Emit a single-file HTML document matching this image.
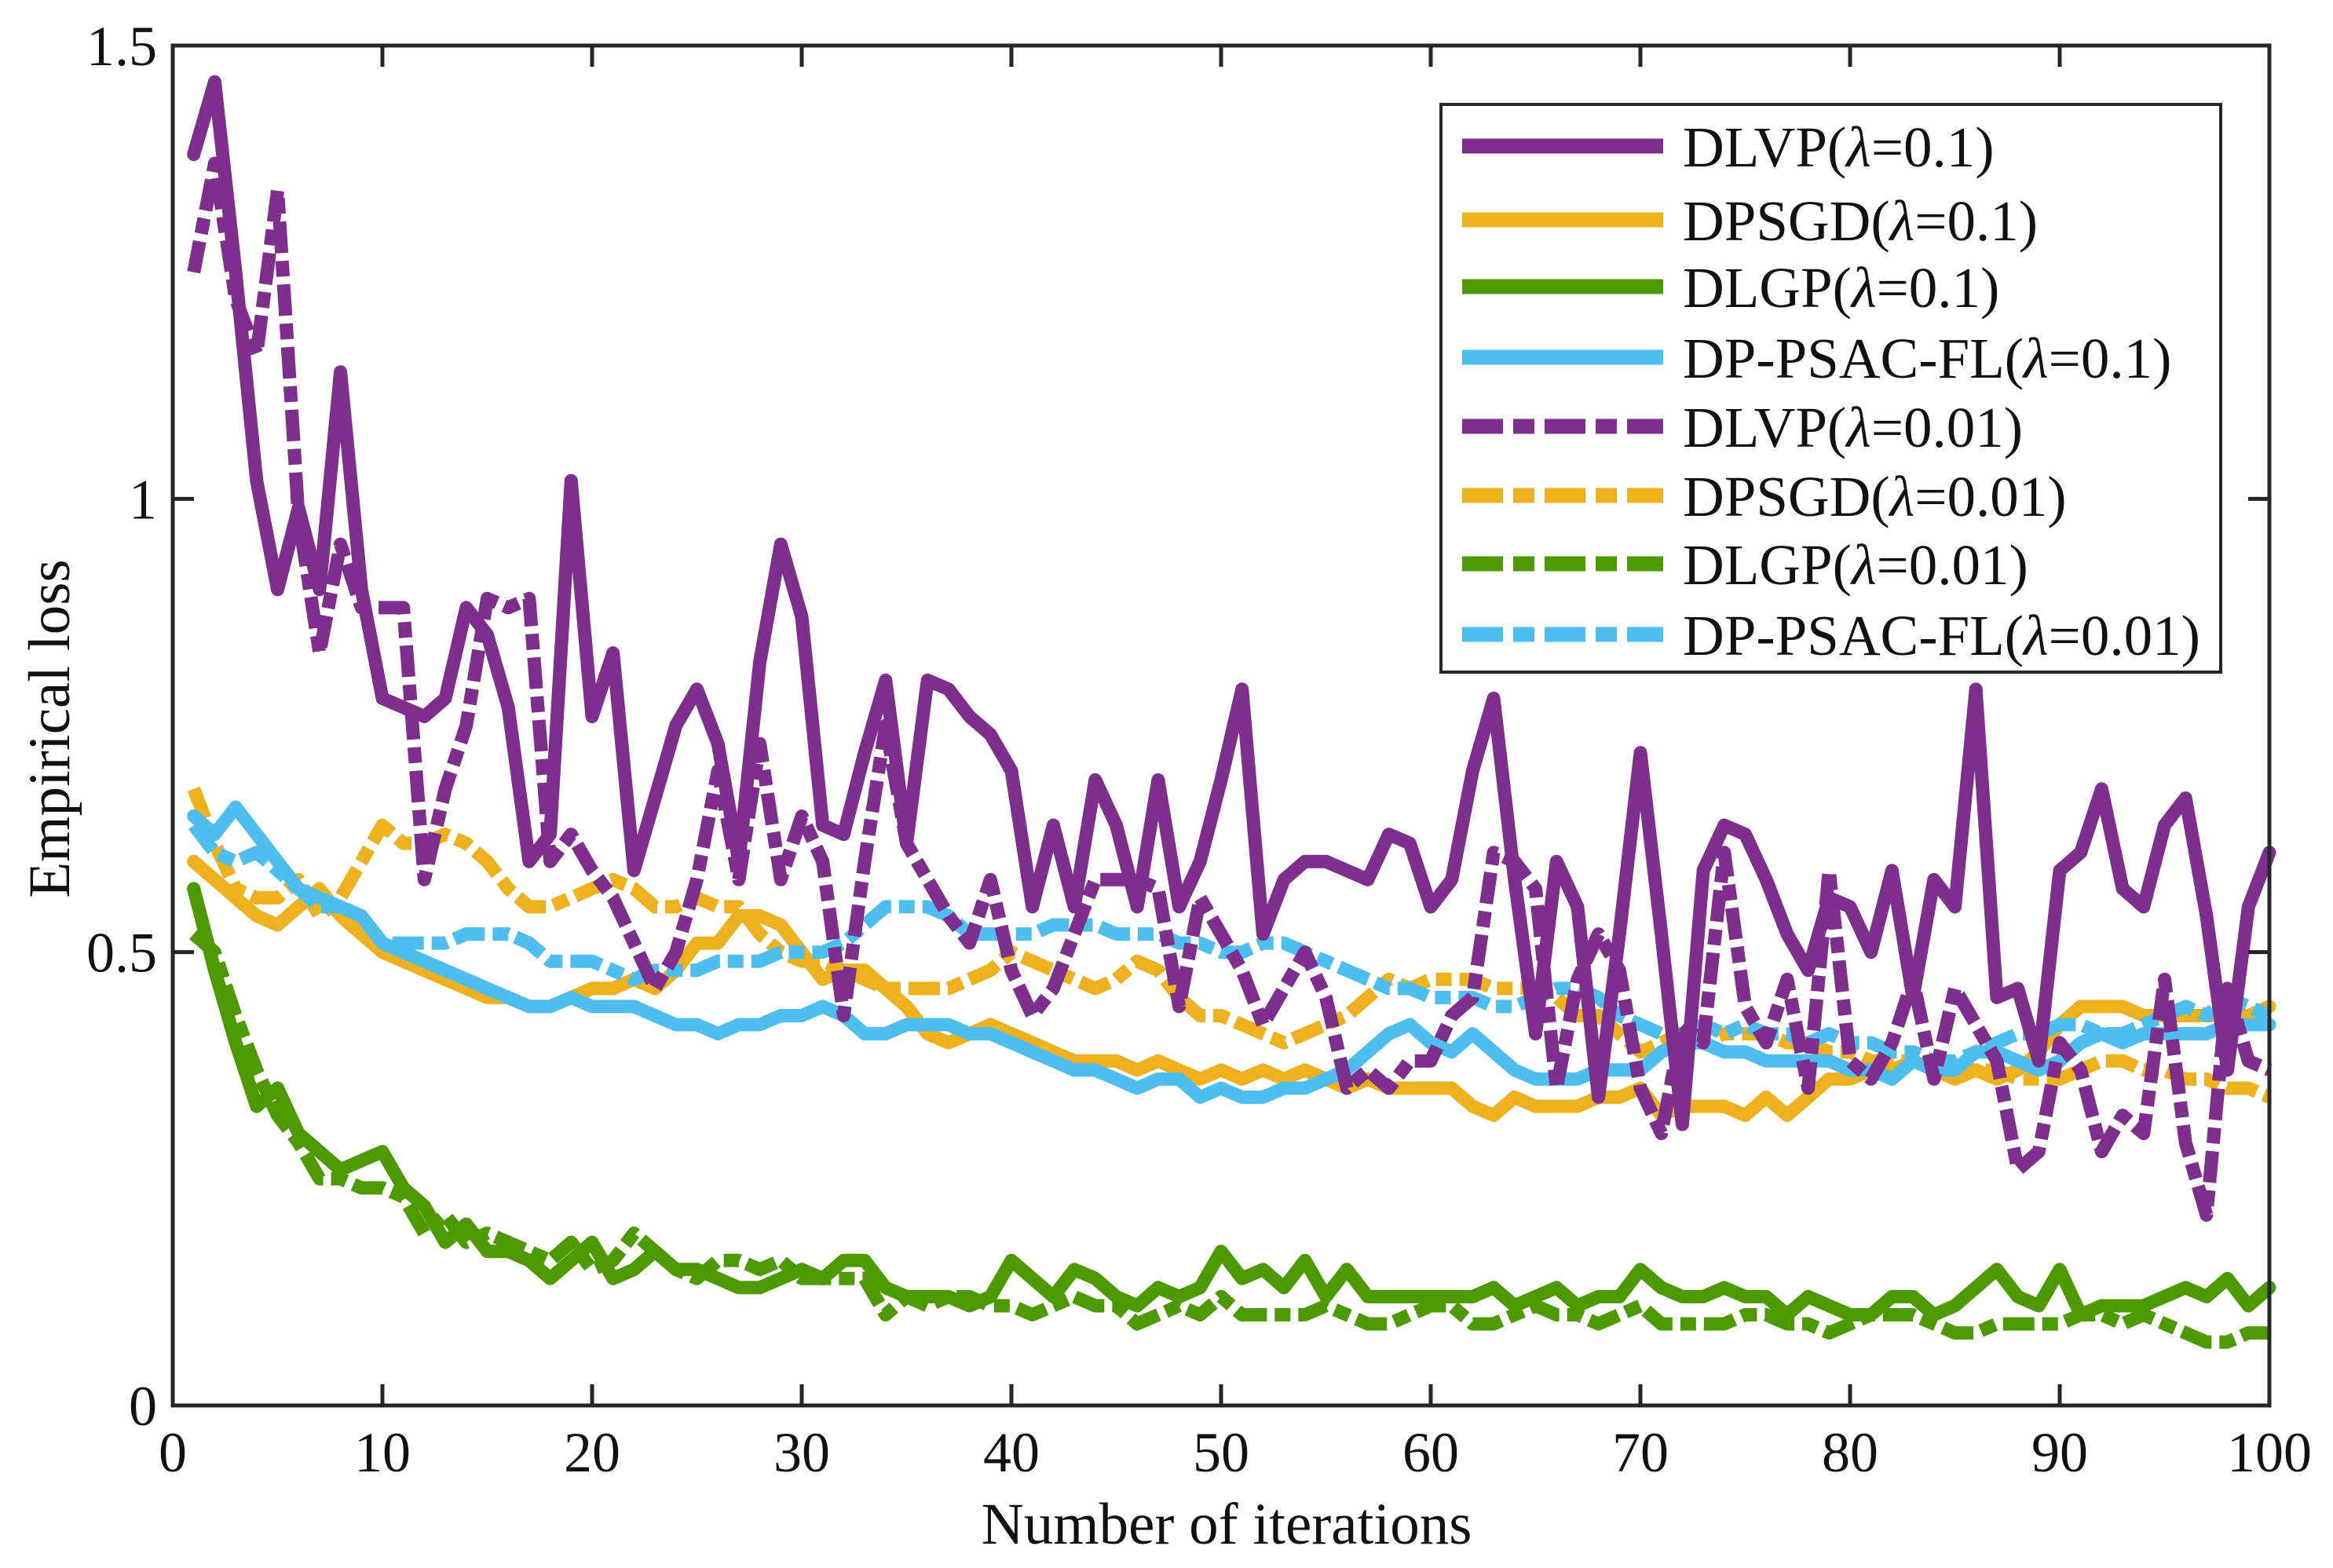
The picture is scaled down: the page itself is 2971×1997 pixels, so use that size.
<!DOCTYPE html>
<html><head><meta charset="utf-8"><style>
html,body{margin:0;padding:0;background:#fff}
svg{display:block}
text{font-family:"Liberation Serif",serif;fill:#111}
</style></head><body>
<svg id="chart" width="2971" height="1997" viewBox="0 0 2971 1997" xmlns="http://www.w3.org/2000/svg">
<g id="series"></g>
<g id="axes"></g>
<g id="legend"></g>
</svg>
<script>
const iterations = Array.from({length:100},(_,i)=>i+1);
const xTicks = [0,10,20,30,40,50,60,70,80,90,100];
const yTicks = [0,0.5,1,1.5];
const yTickLabels = ["0","0.5","1","1.5"];
const seriesNames = ["DLVP(λ=0.1)","DPSGD(λ=0.1)","DLGP(λ=0.1)","DP-PSAC-FL(λ=0.1)","DLVP(λ=0.01)","DPSGD(λ=0.01)","DLGP(λ=0.01)","DP-PSAC-FL(λ=0.01)"];
const dlvp01 = [1.38,1.46,1.25,1.02,0.90,0.99,0.90,1.14,0.90,0.78,0.77,0.76,0.78,0.88,0.85,0.77,0.60,0.63,1.02,0.76,0.83,0.59,0.67,0.75,0.79,0.73,0.60,0.82,0.95,0.87,0.64,0.63,0.72,0.80,0.62,0.80,0.79,0.76,0.74,0.70,0.55,0.64,0.55,0.69,0.64,0.55,0.69,0.55,0.60,0.69,0.79,0.52,0.58,0.60,0.60,0.59,0.58,0.63,0.62,0.55,0.58,0.70,0.78,0.58,0.41,0.60,0.55,0.34,0.52,0.72,0.52,0.31,0.59,0.64,0.63,0.58,0.52,0.48,0.56,0.55,0.50,0.59,0.45,0.58,0.55,0.79,0.45,0.46,0.38,0.59,0.61,0.68,0.57,0.55,0.64,0.67,0.54,0.37,0.55,0.61];
const dpsgd01 = [0.60,0.58,0.56,0.54,0.53,0.55,0.57,0.54,0.52,0.50,0.49,0.48,0.47,0.46,0.45,0.45,0.44,0.44,0.45,0.46,0.46,0.47,0.46,0.48,0.51,0.51,0.54,0.54,0.53,0.50,0.47,0.48,0.48,0.46,0.44,0.41,0.40,0.41,0.42,0.41,0.40,0.39,0.38,0.38,0.38,0.37,0.38,0.37,0.36,0.37,0.36,0.37,0.36,0.37,0.36,0.35,0.36,0.35,0.35,0.35,0.35,0.33,0.32,0.34,0.33,0.33,0.33,0.34,0.34,0.35,0.32,0.33,0.33,0.33,0.32,0.34,0.32,0.34,0.36,0.36,0.37,0.37,0.38,0.37,0.36,0.37,0.36,0.37,0.39,0.42,0.44,0.44,0.44,0.43,0.43,0.43,0.43,0.43,0.43,0.44];
const dlgp01 = [0.57,0.48,0.40,0.33,0.35,0.30,0.28,0.26,0.27,0.28,0.24,0.22,0.18,0.20,0.17,0.17,0.16,0.14,0.16,0.18,0.14,0.15,0.17,0.15,0.15,0.14,0.13,0.13,0.14,0.15,0.14,0.16,0.16,0.13,0.12,0.12,0.12,0.11,0.12,0.16,0.14,0.12,0.15,0.14,0.12,0.11,0.13,0.12,0.13,0.17,0.14,0.15,0.13,0.16,0.12,0.15,0.12,0.12,0.12,0.12,0.12,0.12,0.13,0.11,0.12,0.13,0.11,0.12,0.12,0.15,0.13,0.12,0.12,0.13,0.12,0.12,0.10,0.12,0.11,0.10,0.10,0.12,0.12,0.10,0.11,0.13,0.15,0.12,0.11,0.15,0.10,0.11,0.11,0.11,0.12,0.13,0.12,0.14,0.11,0.13];
const psac01 = [0.65,0.63,0.66,0.63,0.60,0.57,0.56,0.55,0.54,0.51,0.50,0.49,0.48,0.47,0.46,0.45,0.44,0.44,0.45,0.44,0.44,0.44,0.43,0.42,0.42,0.41,0.42,0.42,0.43,0.43,0.44,0.43,0.41,0.41,0.42,0.42,0.42,0.41,0.41,0.40,0.39,0.38,0.37,0.37,0.36,0.35,0.36,0.36,0.34,0.35,0.34,0.34,0.35,0.35,0.36,0.37,0.39,0.41,0.42,0.40,0.39,0.41,0.39,0.37,0.36,0.36,0.36,0.37,0.37,0.37,0.39,0.40,0.40,0.39,0.39,0.38,0.38,0.38,0.38,0.37,0.37,0.36,0.38,0.37,0.37,0.39,0.39,0.38,0.37,0.38,0.40,0.41,0.40,0.41,0.41,0.41,0.41,0.42,0.42,0.42];
const dlvp001 = [1.25,1.37,1.22,1.16,1.34,0.98,0.83,0.95,0.88,0.88,0.88,0.58,0.68,0.75,0.89,0.88,0.89,0.60,0.63,0.59,0.56,0.51,0.46,0.50,0.58,0.70,0.58,0.73,0.58,0.65,0.60,0.43,0.60,0.75,0.62,0.58,0.54,0.51,0.58,0.48,0.43,0.46,0.52,0.58,0.58,0.58,0.57,0.44,0.56,0.52,0.48,0.42,0.46,0.50,0.45,0.35,0.37,0.35,0.38,0.38,0.43,0.45,0.61,0.60,0.57,0.35,0.47,0.52,0.48,0.35,0.30,0.42,0.40,0.61,0.44,0.40,0.47,0.35,0.59,0.38,0.36,0.40,0.47,0.36,0.46,0.42,0.38,0.26,0.28,0.40,0.37,0.28,0.32,0.30,0.47,0.29,0.21,0.46,0.38,0.37];
const dpsgd001 = [0.68,0.62,0.57,0.56,0.56,0.58,0.54,0.56,0.60,0.64,0.62,0.62,0.63,0.62,0.60,0.57,0.55,0.55,0.56,0.57,0.58,0.57,0.55,0.55,0.56,0.55,0.55,0.52,0.50,0.49,0.49,0.48,0.47,0.46,0.46,0.46,0.46,0.47,0.48,0.50,0.49,0.48,0.47,0.46,0.47,0.49,0.48,0.45,0.43,0.43,0.42,0.41,0.40,0.41,0.42,0.43,0.45,0.47,0.46,0.47,0.47,0.47,0.46,0.46,0.46,0.45,0.43,0.43,0.41,0.39,0.40,0.41,0.40,0.41,0.41,0.41,0.40,0.40,0.39,0.39,0.38,0.38,0.38,0.38,0.37,0.37,0.37,0.36,0.36,0.36,0.37,0.38,0.38,0.37,0.37,0.36,0.36,0.35,0.35,0.34];
const dlgp001 = [0.52,0.50,0.43,0.37,0.32,0.29,0.25,0.25,0.24,0.24,0.23,0.19,0.21,0.18,0.19,0.18,0.17,0.16,0.18,0.15,0.16,0.19,0.17,0.15,0.14,0.16,0.16,0.15,0.16,0.14,0.14,0.14,0.14,0.10,0.12,0.11,0.12,0.12,0.11,0.11,0.10,0.11,0.12,0.11,0.11,0.09,0.10,0.11,0.10,0.12,0.10,0.10,0.10,0.10,0.11,0.10,0.09,0.09,0.10,0.11,0.11,0.09,0.09,0.10,0.11,0.10,0.10,0.09,0.10,0.11,0.09,0.09,0.09,0.09,0.10,0.10,0.09,0.09,0.08,0.09,0.10,0.10,0.10,0.09,0.08,0.08,0.09,0.09,0.09,0.09,0.10,0.10,0.09,0.10,0.09,0.08,0.07,0.07,0.08,0.08];
const psac001 = [0.64,0.61,0.60,0.61,0.59,0.57,0.55,0.55,0.54,0.51,0.51,0.51,0.51,0.52,0.52,0.52,0.51,0.49,0.49,0.49,0.48,0.47,0.48,0.48,0.48,0.49,0.49,0.49,0.50,0.50,0.50,0.51,0.53,0.55,0.55,0.55,0.54,0.52,0.52,0.52,0.52,0.53,0.53,0.53,0.52,0.52,0.52,0.51,0.51,0.50,0.50,0.51,0.51,0.50,0.49,0.48,0.47,0.46,0.46,0.45,0.45,0.45,0.44,0.44,0.45,0.46,0.46,0.45,0.43,0.42,0.41,0.41,0.42,0.41,0.42,0.41,0.41,0.40,0.41,0.40,0.40,0.39,0.39,0.38,0.38,0.39,0.40,0.41,0.41,0.42,0.42,0.41,0.41,0.42,0.43,0.44,0.43,0.45,0.44,0.43];

const NS="http://www.w3.org/2000/svg";
const X0=220,X1=2890,Y0=1790,Y1=58;
const xScale=v=>X0+(v-0)/(100-0)*(X1-X0);
const yScale=v=>Y0-(v-0)/(1.5-0)*(Y0-Y1);
const colors={p:"#7E2F8E",o:"#EDB120",g:"#4D9A00",b:"#4DBEEE"};
const DASH="40 10 20 10";
const seriesDefs=[
 {d:dlvp01,c:colors.p,dash:null,n:"dlvp-lambda-0.1-line"},
 {d:dpsgd01,c:colors.o,dash:null,n:"dpsgd-lambda-0.1-line"},
 {d:dlgp01,c:colors.g,dash:null,n:"dlgp-lambda-0.1-line"},
 {d:psac01,c:colors.b,dash:null,n:"dp-psac-fl-lambda-0.1-line"},
 {d:dlvp001,c:colors.p,dash:DASH,n:"dlvp-lambda-0.01-line"},
 {d:dpsgd001,c:colors.o,dash:DASH,n:"dpsgd-lambda-0.01-line"},
 {d:dlgp001,c:colors.g,dash:DASH,n:"dlgp-lambda-0.01-line"},
 {d:psac001,c:colors.b,dash:DASH,n:"dp-psac-fl-lambda-0.01-line"}
];
const gS=document.getElementById("series");
const drawOrder=[2,6,1,5,3,7,4,0];
drawOrder.forEach(i=>{
 const s=seriesDefs[i];
 const p=document.createElementNS(NS,"polyline");
 p.setAttribute("points",s.d.map((v,k)=>xScale(iterations[k]).toFixed(1)+","+yScale(v).toFixed(1)).join(" "));
 p.setAttribute("fill","none");p.setAttribute("stroke",s.c);p.setAttribute("stroke-width","17");
 p.setAttribute("stroke-linejoin","round");
 if(s.dash){p.setAttribute("stroke-dasharray",s.dash);}else{p.setAttribute("stroke-linecap","round");}
 
 
 gS.appendChild(p);
});
const gA=document.getElementById("axes");
function el(tag,attrs,parent){const e=document.createElementNS(NS,tag);for(const k in attrs)e.setAttribute(k,attrs[k]);parent.appendChild(e);return e;}
const frame=el("rect",{x:X0,y:Y1,width:X1-X0,height:Y0-Y1,fill:"none",stroke:"#262626","stroke-width":5},gA);


const TL=27;
xTicks.forEach(v=>{
 const x=xScale(v);
 el("line",{x1:x,y1:Y0,x2:x,y2:Y0-TL,stroke:"#262626","stroke-width":5},gA);
 el("line",{x1:x,y1:Y1,x2:x,y2:Y1+TL,stroke:"#262626","stroke-width":5},gA);
 const t=el("text",{x:x,y:1874,"text-anchor":"middle","font-size":72},gA);
 t.textContent=String(v);
 
 
});
yTicks.forEach((v,i)=>{
 const y=yScale(v);
 el("line",{x1:X0,y1:y,x2:X0+TL,y2:y,stroke:"#262626","stroke-width":5},gA);
 el("line",{x1:X1,y1:y,x2:X1-TL,y2:y,stroke:"#262626","stroke-width":5},gA);
 const t=el("text",{x:200,y:y+25,"text-anchor":"end","font-size":72},gA);
 t.textContent=yTickLabels[i];
 
 
});
const xl=el("text",{x:1562,y:1966,"text-anchor":"middle","font-size":75},gA);
xl.textContent="Number of iterations";


const yl=el("text",{transform:"translate(88,928) rotate(-90)","text-anchor":"middle","font-size":75},gA);
yl.textContent="Empirical loss";



const gL=document.getElementById("legend");
const box=el("rect",{x:1835,y:133,width:993,height:723,fill:"#fff",stroke:"#262626","stroke-width":4},gL);


const legY=[186,280,365,455,543,631,718,808];
seriesDefs.forEach((s,i)=>{
 const y=legY[i];
 const g=el("g",{},gL);
 
 
 const ln=el("line",{x1:1862,y1:y,x2:2118,y2:y,stroke:s.c,"stroke-width":19},g);
 if(s.dash)ln.setAttribute("stroke-dasharray","52 13 27 13");
 const t=el("text",{x:2143,y:y+26,"font-size":73},g);
 const name=seriesNames[i];const idx=name.indexOf("λ");
 t.appendChild(document.createTextNode(name.slice(0,idx)));
 const ts=el("tspan",{"font-style":"italic"},t);ts.textContent="λ";
 t.appendChild(document.createTextNode(name.slice(idx+1)));
});
</script>
</body></html>
